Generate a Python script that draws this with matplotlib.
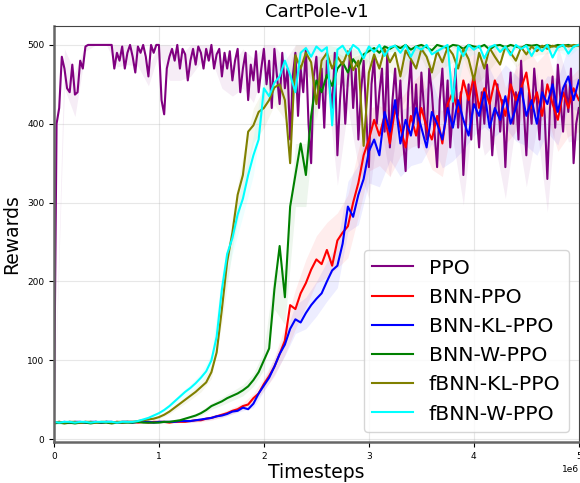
import numpy as np
import matplotlib
matplotlib.use("Agg")
import matplotlib.pyplot as plt

# PPO mean reward every 25k timesteps (0 .. 5e6)
ppo_steps = np.linspace(0, 5e6, 201)
ppo = [20, 400, 420, 485, 470, 445, 440, 475,
       437, 440, 480, 470, 498, 500, 500, 500,
       500, 500, 500, 500, 500, 500, 500, 470,
       490, 480, 498, 470, 490, 500, 485, 465,
       498, 490, 500, 485, 460, 500, 490, 500,
       500, 430, 412, 470, 485, 495, 480, 500,
       470, 495, 488, 455, 480, 495, 475, 498,
       490, 470, 495, 480, 500, 470, 488, 495,
       460, 490, 470, 492, 455, 480, 495, 440,
       470, 490, 430, 475, 455, 492, 440, 470,
       495, 450, 480, 420, 495, 460, 425, 490,
       445, 470, 380, 460, 490, 410, 470, 440,
       495, 400, 350, 460, 485, 420, 470, 395,
       480, 450, 420, 490, 360, 430, 475, 400,
       455, 495, 420, 470, 380, 440, 480, 410,
       345, 450, 485, 400, 440, 470, 390, 490,
       370, 430, 470, 410, 455, 380, 340, 440,
       480, 400, 450, 370, 465, 420, 380, 470,
       440, 390, 345, 430, 470, 400, 455, 370,
       420, 470, 395, 440, 335, 400, 450, 380,
       460, 415, 370, 440, 400, 475, 430, 360,
       410, 450, 390, 430, 345, 420, 465, 400,
       440, 380, 480, 420, 360, 440, 400, 470,
       430, 380, 455, 410, 330, 420, 460, 395,
       475, 430, 390, 450, 415, 470, 350, 400,
       420]

# other methods: mean reward every 50k timesteps
timesteps = np.linspace(0, 5e6, 101)

bnn_ppo = [21, 22, 21, 22, 21, 21, 22, 21, 22, 21,
           22, 21, 22, 21, 22, 22, 21, 22, 21, 22,
           22, 22, 21, 22, 22, 22, 23, 24, 24, 26,
           27, 29, 31, 33, 36, 38, 42, 44, 52, 58,
           70, 80, 92, 108, 125, 170, 165, 185, 198, 215,
           228, 222, 240, 220, 252, 262, 270, 300, 325, 360,
           380, 405, 385, 410, 375, 420, 395, 370, 410, 385,
           420, 395, 380, 410, 375, 425, 440, 415, 455, 430,
           460, 420, 445, 425, 455, 435, 410, 450, 430, 445,
           465, 420, 440, 410, 450, 425, 405, 440, 420, 445,
           430]

bnn_kl_ppo = [22, 21, 22, 21, 22, 22, 21, 22, 22, 21,
              22, 22, 21, 22, 22, 21, 22, 22, 22, 21,
              22, 22, 22, 22, 23, 23, 23, 24, 25, 26,
              27, 29, 30, 32, 35, 36, 40, 38, 45, 58,
              68, 78, 92, 108, 120, 140, 152, 148, 160, 170,
              178, 185, 200, 214, 220, 248, 295, 282, 310, 330,
              365, 380, 360, 415, 390, 430, 375, 405, 385, 420,
              395, 370, 415, 400, 380, 420, 395, 430, 405, 385,
              425, 410, 440, 395, 420, 405, 435, 400, 420, 445,
              410, 430, 400, 440, 425, 450, 415, 445, 460, 430,
              455]

bnn_w_ppo = [20, 21, 20, 21, 20, 21, 21, 20, 21, 21,
             21, 20, 21, 21, 21, 21, 22, 21, 21, 21,
             21, 22, 22, 23, 24, 26, 28, 30, 33, 37,
             42, 45, 48, 52, 55, 58, 62, 67, 75, 85,
             100, 115, 190, 245, 180, 295, 335, 375, 335, 410,
             455, 440, 462, 448, 470, 478, 465, 482, 472, 488,
             492, 496, 490, 498, 495, 499, 496, 500, 494, 498,
             500, 497, 493, 500, 498, 496, 500, 499, 495, 500,
             498, 497, 500, 494, 499, 500, 497, 500, 498, 496,
             500, 499, 500, 497, 500, 498, 500, 499, 500, 498,
             500]

fbnn_kl_ppo = [21, 22, 21, 22, 22, 21, 22, 22, 21, 22,
               22, 21, 22, 22, 22, 22, 23, 24, 25, 26,
               28, 31, 35, 40, 45, 50, 55, 60, 66, 72,
               85, 110, 165, 225, 262, 310, 335, 390, 398, 415,
               420, 430, 446, 450, 430, 350, 487, 470, 490, 478,
               425, 480, 490, 470, 485, 475, 492, 468, 480, 372,
               465, 488, 470, 495, 478, 490, 460, 493, 482, 470,
               495, 485, 465, 492, 478, 497, 488, 470, 495, 482,
               455, 490, 470, 496, 485, 475, 498, 490, 480, 497,
               488, 498, 492, 499, 495, 499, 497, 500, 498, 500,
               499]

fbnn_w_ppo = [22, 21, 22, 22, 21, 22, 22, 21, 22, 22,
              22, 22, 21, 22, 22, 22, 23, 25, 27, 30,
              33, 37, 42, 48, 54, 60, 65, 71, 78, 86,
              100, 130, 190, 235, 255, 285, 305, 335, 360, 380,
              445, 435, 452, 460, 480, 462, 440, 490, 496, 485,
              498, 492, 497, 398, 494, 499, 488, 500, 495, 483,
              498, 491, 500, 486, 497, 499, 490, 500, 485, 498,
              494, 500, 488, 492, 496, 500, 428, 498, 486, 500,
              494, 499, 483, 497, 500, 491, 498, 487, 500, 495,
              499, 486, 498, 492, 500, 484, 497, 500, 489, 498,
              500]

# std every 100k timesteps (shaded bands)
band_steps = np.linspace(0, 5e6, 51)
ppo_std = [0, 25, 28, 6, 0, 0, 18, 15, 25, 12,
           10, 30, 15, 20, 12, 18, 15, 20, 25, 28,
           25, 28, 35, 30, 32, 35, 32, 38, 35, 35,
           40, 32, 38, 35, 40, 35, 38, 35, 40, 38,
           35, 40, 35, 40, 38, 40, 35, 42, 35, 38,
           40]
bnn_ppo_std = [1, 1, 1, 1, 1, 1, 1, 1, 1, 1,
               1, 1, 1, 2, 2, 3, 3, 4, 4, 6,
               8, 12, 18, 25, 30, 30, 35, 35, 40, 42,
               40, 38, 42, 36, 40, 45, 38, 42, 36, 44,
               40, 38, 42, 36, 40, 45, 38, 42, 40, 36,
               40]
bnn_kl_ppo_std = [1, 1, 1, 1, 1, 1, 1, 1, 1, 1,
                  1, 1, 1, 2, 2, 2, 3, 3, 4, 5,
                  7, 10, 14, 18, 20, 22, 25, 28, 32, 38,
                  40, 40, 36, 42, 38, 44, 40, 36, 42, 38,
                  40, 44, 36, 40, 42, 38, 40, 36, 42, 38,
                  40]
bnn_w_ppo_std = [1, 1, 1, 1, 1, 1, 1, 1, 1, 1,
                 1, 1, 2, 2, 3, 4, 5, 6, 7, 8,
                 12, 25, 35, 40, 40, 30, 25, 20, 18, 15,
                 10, 5, 3, 4, 3, 5, 3, 4, 3, 3,
                 4, 3, 5, 3, 4, 3, 3, 4, 3, 3,
                 3]
fbnn_kl_ppo_std = [1, 1, 1, 1, 1, 1, 1, 1, 1, 2,
                   2, 3, 4, 5, 6, 8, 18, 20, 25, 22,
                   25, 22, 25, 18, 15, 20, 12, 12, 10, 12,
                   15, 10, 12, 10, 8, 12, 10, 8, 10, 12,
                   8, 10, 8, 6, 8, 6, 5, 6, 4, 4,
                   3]
fbnn_w_ppo_std = [1, 1, 1, 1, 1, 1, 1, 1, 1, 2,
                  2, 3, 4, 5, 6, 8, 20, 20, 22, 25,
                  20, 18, 12, 15, 8, 6, 8, 6, 6, 5,
                  5, 5, 6, 5, 8, 5, 6, 5, 10, 6,
                  5, 4, 6, 5, 4, 6, 5, 4, 5, 4,
                  4]

labels = ["PPO", "BNN-PPO", "BNN-KL-PPO", "BNN-W-PPO", "fBNN-KL-PPO", "fBNN-W-PPO"]
colors = ["purple", "red", "blue", "green", "olive", "cyan"]
xs = [ppo_steps, timesteps, timesteps, timesteps, timesteps, timesteps]
means = [ppo, bnn_ppo, bnn_kl_ppo, bnn_w_ppo, fbnn_kl_ppo, fbnn_w_ppo]
stds = [ppo_std, bnn_ppo_std, bnn_kl_ppo_std, bnn_w_ppo_std, fbnn_kl_ppo_std, fbnn_w_ppo_std]

fig = plt.figure(figsize=(5.8, 4.83), dpi=100)
ax = fig.add_axes([0.093, 0.085, 0.905, 0.862])

for x, m, s, c, lab in zip(xs, means, stds, colors, labels):
    m = np.array(m, dtype=float)
    s = np.array(s, dtype=float)
    step = (len(m) - 1) // (len(s) - 1)
    mb = m[::step]
    ax.fill_between(band_steps, mb - s, np.minimum(mb + s, 500), color=c, alpha=0.07, lw=0)
    ax.plot(x, m, color=c, lw=1.5, label=lab)

ax.set_xlim(0, 5e6)
ax.set_ylim(-3.5, 524.5)
ax.grid(alpha=0.3)
ax.tick_params(labelsize=6.5)
ax.xaxis.get_offset_text().set_fontsize(6.5)
ax.set_title("CartPole-v1", fontsize=13)
ax.set_xlabel("Timesteps", fontsize=13.5, labelpad=2)
ax.set_ylabel("Rewards", fontsize=13.5)
for side in ["left", "bottom"]:
    ax.spines[side].set_linewidth(1.8)
    ax.spines[side].set_color("#666666")
for side in ["top", "right"]:
    ax.spines[side].set_linewidth(0.8)
    ax.spines[side].set_color("#444444")

ax.legend(loc="lower right", fontsize=14.7)

fig.savefig("out.png", dpi=100)
